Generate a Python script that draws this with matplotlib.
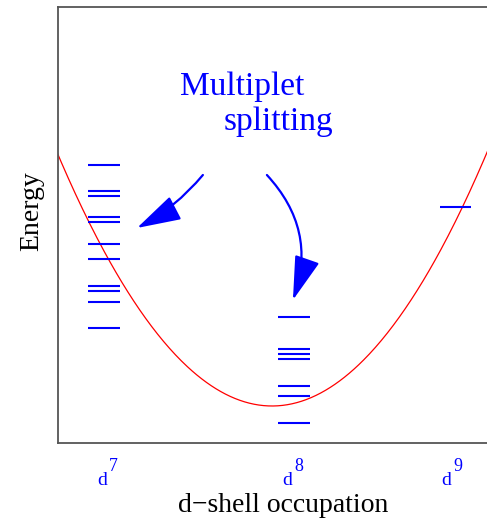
import numpy as np
import matplotlib
matplotlib.use('Agg')
import matplotlib.pyplot as plt
from matplotlib.patches import FancyArrowPatch

plt.rcParams['font.family'] = ['Liberation Serif', 'DejaVu Serif']

# energy levels per occupation (arbitrary energy units)
d7_levels = [2.78, 2.52, 2.47, 2.26, 2.21, 1.99, 1.84, 1.57, 1.52, 1.41, 1.15]
d8_levels = [1.26, 0.94, 0.89, 0.84, 0.57, 0.47, 0.20]
d9_levels = [2.36]
occupations = [7.0, 8.0, 8.85]
tick_pos = [7.02, 7.995, 8.83]
tick_sup = ['7', '8', '9']

# parabola E = e_min + curv * (n - n0)^2
e_min = 0.37
n0 = 7.885
curv = 1.98

# arrows: (start, end) in data coords
arrow_left = ((7.521, 2.68), (7.174, 2.15))
arrow_mid = ((7.858, 2.68), (7.995, 1.43))

fig = plt.figure(figsize=(4.87, 5.18), dpi=100)
# axes runs a little past the right edge of the figure
ax = fig.add_axes([0.119, 0.1448, 0.926, 0.8417])

n = np.linspace(6.7, 9.2, 400)
ax.plot(n, e_min + curv * (n - n0) ** 2, color='red', lw=0.9)

half = 0.083
for x, levels in zip(occupations, [d7_levels, d8_levels, d9_levels]):
    ax.hlines(levels, x - half, x + half, color='blue', lw=1.5)

ax.set_xlim(6.758, 9.132)
ax.set_ylim(0, 4.36)
ax.set_xticks([])
ax.set_yticks([])
for side in ['left', 'top', 'bottom']:
    ax.spines[side].set_color('#555555')
    ax.spines[side].set_linewidth(1.3)
ax.spines['right'].set_visible(False)

# tick labels d^n
for x, s in zip(tick_pos, tick_sup):
    ax.annotate('d', xy=(x, 0), xycoords=('data', 'axes fraction'),
                xytext=(-4, -30), textcoords='offset points',
                ha='center', va='baseline', color='blue', fontsize=14)
    ax.annotate(s, xy=(x, 0), xycoords=('data', 'axes fraction'),
                xytext=(1, -20), textcoords='offset points',
                ha='left', va='baseline', color='blue', fontsize=13)

ax.set_xlabel('d\u2212shell occupation', fontsize=20, labelpad=36)
ax.set_ylabel('Energy', fontsize=20, labelpad=10)
ax.yaxis.label.set_y(0.532)

ax.text(7.4, 3.48, 'Multiplet', color='blue', fontsize=24, va='baseline')
ax.text(7.632, 3.13, 'splitting', color='blue', fontsize=24, va='baseline')

for (p0, p1), rad in [(arrow_left, -0.1), (arrow_mid, -0.3)]:
    ax.add_patch(FancyArrowPatch(p0, p1, connectionstyle=f'arc3,rad={rad}',
                                 arrowstyle='-|>,head_length=11,head_width=3.2',
                                 color='blue', lw=1.6, mutation_scale=2.5,
                                 shrinkA=0, shrinkB=0))

fig.savefig('out.png', dpi=100)
